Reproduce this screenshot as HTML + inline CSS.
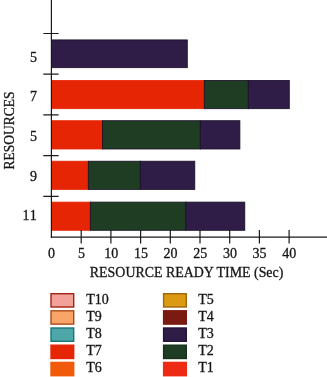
<!DOCTYPE html>
<html><head><meta charset="utf-8">
<style>
html,body{margin:0;padding:0;background:#fff;}
svg{display:block;}
text{font-family:"Liberation Serif",serif;fill:#161616;stroke:#161616;stroke-width:0.3px;}
</style></head><body>
<svg width="327" height="377" viewBox="0 0 327 377">
<rect width="327" height="377" fill="#fff"/>
<g stroke="#160e24" stroke-width="0.8">
<!-- row1 -->
<rect x="51.5" y="39.9" width="135.8" height="27.8" fill="#2f1d47"/>
<!-- row2 -->
<rect x="51.5" y="80.4" width="152.8" height="28.3" fill="#e62505" stroke="#e62505"/>
<rect x="204.3" y="80.4" width="44" height="28.3" fill="#1f3d22"/>
<rect x="248.3" y="80.4" width="41" height="28.3" fill="#2f1d47"/>
<!-- row3 -->
<rect x="51.5" y="120.7" width="50.9" height="28.3" fill="#e62505" stroke="#e62505"/>
<rect x="102.4" y="120.7" width="97.9" height="28.3" fill="#1f3d22"/>
<rect x="200.3" y="120.7" width="39.6" height="28.3" fill="#2f1d47"/>
<!-- row4 -->
<rect x="51.5" y="161.2" width="36.8" height="28.2" fill="#e62505" stroke="#e62505"/>
<rect x="88.3" y="161.2" width="52" height="28.2" fill="#1f3d22"/>
<rect x="140.3" y="161.2" width="54.5" height="28.2" fill="#2f1d47"/>
<!-- row5 -->
<rect x="51.5" y="202.1" width="38.8" height="28.2" fill="#e62505" stroke="#e62505"/>
<rect x="90.3" y="202.1" width="95.6" height="28.2" fill="#1f3d22"/>
<rect x="185.9" y="202.1" width="58.9" height="28.2" fill="#2f1d47"/>
</g>
<g stroke="#1a1a1a" stroke-width="1.2" fill="none">
<line x1="51.4" y1="0" x2="51.4" y2="237.8"/>
<line x1="50.8" y1="237.2" x2="327" y2="237.2"/>
<path d="M43.3 33.5H58.6M43.3 74.2H58.6M43.3 114.9H58.6M43.3 155.6H58.6M43.3 196.4H58.6"/>
<path d="M81.2 230V243.4M110.9 230V243.4M140.6 230V243.4M170.3 230V243.4M200 230V243.4M229.7 230V243.4M259.4 230V243.4M289.1 230V243.4"/>
</g>
<g font-size="14" text-anchor="end">
<text x="37" y="62">5</text>
<text x="37" y="101.4">7</text>
<text x="37" y="141.2">5</text>
<text x="37" y="181.4">9</text>
<text x="36.8" y="220.2" textLength="14.4" lengthAdjust="spacing">11</text>
</g>
<g font-size="14" text-anchor="middle">
<text x="51.5" y="258">0</text>
<text x="81.5" y="258">5</text>
<text x="111.2" y="258">10</text>
<text x="141" y="258">15</text>
<text x="170.5" y="258">20</text>
<text x="200.2" y="258">25</text>
<text x="230" y="258">30</text>
<text x="259.5" y="258">35</text>
<text x="289.3" y="258">40</text>
<text x="186.6" y="277.2" font-size="14.4" textLength="193.5" lengthAdjust="spacingAndGlyphs">RESOURCE READY TIME (Sec)</text>
<text transform="translate(13.9,130.4) rotate(-90)" font-size="14.2" textLength="78" lengthAdjust="spacingAndGlyphs">RESOURCES</text>
</g>
<g stroke-width="1.4">
<rect x="51" y="293.7" width="22.7" height="13.3" fill="#f4a19a" stroke="#a02616"/>
<rect x="51" y="310.8" width="22.7" height="13.3" fill="#f9a468" stroke="#aa4a18"/>
<rect x="51" y="328" width="22.7" height="13.3" fill="#4da6a8" stroke="#197779"/>
<rect x="51" y="345.2" width="22.7" height="13.3" fill="#e62505" stroke="#e62505"/>
<rect x="51" y="362.4" width="22.7" height="13.3" fill="#f05a0a" stroke="#f05a0a"/>
<rect x="163.6" y="293.7" width="22.7" height="13.3" fill="#db9a12" stroke="#9e6812"/>
<rect x="163.6" y="310.8" width="22.7" height="13.3" fill="#7b1a10" stroke="#7b1a10"/>
<rect x="163.6" y="328" width="22.7" height="13.3" fill="#2f1d47" stroke="#241538"/>
<rect x="163.6" y="345.2" width="22.7" height="13.3" fill="#1f3d22" stroke="#17301b"/>
<rect x="163.6" y="362.4" width="22.7" height="13.3" fill="#ee2a14" stroke="#ee2a14"/>
</g>
<g font-size="14">
<text x="86.3" y="304.2">T10</text>
<text x="86.3" y="321.2">T9</text>
<text x="86.3" y="338.2">T8</text>
<text x="86.3" y="355.2">T7</text>
<text x="86.3" y="372.3">T6</text>
<text x="198.3" y="304.2">T5</text>
<text x="198.3" y="321.2">T4</text>
<text x="198.3" y="338.2">T3</text>
<text x="198.3" y="355.2">T2</text>
<text x="198.3" y="372.3">T1</text>
</g>
</svg>
</body></html>
